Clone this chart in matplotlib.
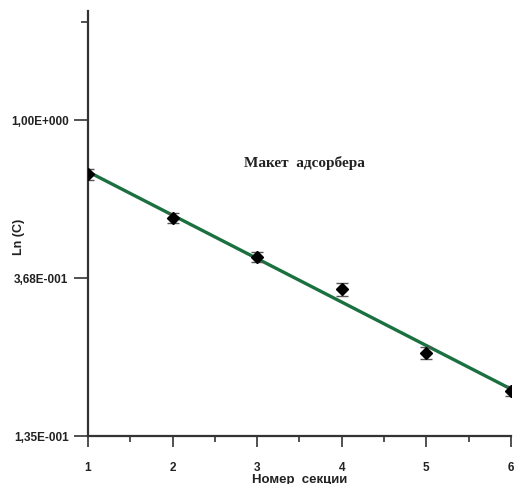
import numpy as np
import matplotlib
matplotlib.use("Agg")
import matplotlib.pyplot as plt
from matplotlib.ticker import FixedLocator, NullFormatter

# ── Data ─────────────────────────────────────────────────────────────────────
section = [1, 2, 3, 4, 5, 6]
conc    = [0.710, 0.538, 0.420, 0.343, 0.229, 0.180]
conc_err = [0.024, 0.018, 0.014, 0.014, 0.008, 0.006]

ytick_vals   = [np.exp(0.0), np.exp(-1.0), np.exp(-2.0)]
ytick_labels = ["1,00E+000", "3,68E-001", "1,35E-001"]
xtick_labels = ["1", "2", "3", "4", "5", "6"]

LINE_GREEN = "#1b7040"
AXIS_GREY = "#333333"

# exponential fit in ln-space
slope, icept = np.polyfit(section, np.log(conc), 1)
x_fit = np.array([section[0], section[-1]])
y_fit = np.exp(icept + slope * x_fit)

fig = plt.figure(figsize=(5.16, 4.85), dpi=100)
ax = fig.add_axes([0.1705, 0.099, 0.8195, 0.8763])

ax.plot(x_fit, y_fit, color=LINE_GREEN, linewidth=2.4, zorder=2)
ax.errorbar(section, conc, yerr=conc_err, fmt="D", color="black",
            markersize=6, ecolor="#555555", elinewidth=1.0, capsize=4,
            capthick=1.0, zorder=3)

ax.set_yscale("log")
ax.set_ylim(np.exp(-2.0), np.exp(0.69))
ax.set_xlim(1, 6)

ax.yaxis.set_major_locator(FixedLocator(ytick_vals))
ax.set_yticklabels(ytick_labels)
ax.yaxis.set_minor_locator(FixedLocator([np.exp(0.62)]))
ax.yaxis.set_minor_formatter(NullFormatter())

ax.set_xticks(section)
ax.set_xticklabels(xtick_labels)
ax.set_xticks(np.arange(1.5, 6, 1.0), minor=True)

for s in ("top", "right"):
    ax.spines[s].set_visible(False)
for s in ("left", "bottom"):
    ax.spines[s].set_color(AXIS_GREY)
    ax.spines[s].set_linewidth(1.6)

ax.tick_params(axis="y", which="major", direction="out", length=10, width=1.2,
               color=AXIS_GREY, pad=4)
ax.tick_params(axis="y", which="minor", direction="out", length=5, width=1.2,
               color=AXIS_GREY)
ax.tick_params(axis="x", which="major", direction="out", length=8, width=1.2,
               color=AXIS_GREY, pad=10)
ax.tick_params(axis="x", which="minor", direction="out", length=4.5, width=1.2,
               color=AXIS_GREY)

for lbl in ax.get_xticklabels() + ax.get_yticklabels():
    lbl.set_fontfamily("Liberation Sans")
    lbl.set_fontweight("bold")
    lbl.set_fontsize(8.5)
    lbl.set_color("#222222")

ax.set_xlabel("Номер  секции", fontfamily="Liberation Sans", fontweight="bold",
              fontsize=9.5, labelpad=0, color="#222222")
ax.set_ylabel("Ln (C)", fontfamily="Liberation Sans", fontweight="bold",
              fontsize=9, color="#222222")
ax.yaxis.set_label_coords(-0.15, 0.47)

ax.text(0.513, 0.645, "Макет  адсорбера", transform=ax.transAxes,
        fontfamily="Liberation Serif", fontweight="bold", fontsize=11,
        ha="center", va="center", color="#222222")

fig.savefig("out.png", dpi=100)
